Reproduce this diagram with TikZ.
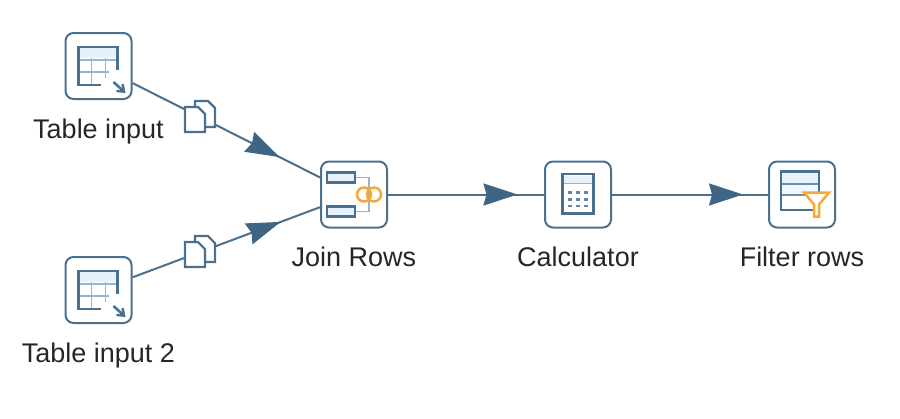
\documentclass[tikz,border=0pt]{standalone}
\usepackage{fontspec}
\setmainfont{Liberation Sans}
\usetikzlibrary{positioning, arrows.meta, decorations.markings}

\definecolor{hopblue}{HTML}{4A7090}
\definecolor{headblue}{HTML}{3F6584}
\definecolor{gridblue}{HTML}{9DB4C6}
\definecolor{paleblue}{HTML}{E6F2FB}
\definecolor{ringorange}{HTML}{F8A836}

\tikzset{
    stepbox/.style={draw=hopblue, line width=2pt, fill=white, rounded corners=8pt, minimum width=66pt, minimum height=66pt, inner sep=0pt},
    steplabel/.style={font=\fontsize{27}{32}\selectfont, text=black!85, inner sep=0pt, text height=19pt, text depth=6pt},
    hop/.style={draw=hopblue, line width=2pt},
    hophead/.style={postaction={decorate}, decoration={markings, mark=at position #1 with {\arrow[headblue]{Stealth[length=34pt, width=22pt, inset=3pt]}}}},
    tableicon/.pic={
        \fill[paleblue] (-19,-18) rectangle (18,-8);
        \draw[gridblue, line width=1.8pt] (-7,-8) -- (-7,18) (7,-8) -- (7,12) (-19,-6) -- (18,-6) (-19,6) -- (10,6);
        \draw[hopblue, line width=2.5pt] (2,19) -- (-20,19) -- (-20,-19) -- (19,-19) -- (19,4);
        \draw[hopblue, line width=2.5pt, -{Straight Barb[length=6pt, width=9pt]}] (15,16) -- (27,27);
    },
    joinicon/.pic={
        \draw[gridblue, line width=1.8pt] (1,-17) -- (15,-17) -- (15,17) -- (1,17);
        \draw[hopblue, line width=2.5pt, fill=paleblue] (-27,-22) rectangle (1,-12);
        \draw[hopblue, line width=2.5pt, fill=paleblue] (-27,12) rectangle (1,22);
        \draw[ringorange, line width=2.5pt] (10,0) circle (7) (20,0) circle (7);
    },
    calcicon/.pic={
        \fill[paleblue] (-15,-19) rectangle (15,-11);
        \draw[gridblue, line width=1.5pt] (-15,-11) -- (15,-11);
        \draw[hopblue, line width=2.5pt] (-15.5,-20.5) rectangle (15.5,19);
        \foreach \keyx in {-8,0,8}
            \foreach \keyy in {-2,5,11.5}
                \fill[hopblue!85] (\keyx-2,\keyy-1.2) rectangle (\keyx+2,\keyy+1.2);
    },
    filtericon/.pic={
        \fill[paleblue] (-21,-23) rectangle (17,-11);
        \fill[paleblue!60] (-21,-11) rectangle (17,0.5);
        \draw[hopblue!80, line width=2pt] (-21,-11) -- (17,-11) (-21,0.5) -- (17,0.5);
        \draw[hopblue, line width=2.5pt] (-21,-23) rectangle (17,15.5);
        \draw[ringorange, line width=2.5pt, fill=white] (2,-2) -- (27,-2) -- (17,10) -- (17,22) -- (12,22) -- (12,10) -- cycle;
    },
    copyicon/.pic={
        \draw[hop, line width=2.2pt, fill=white] (-5,-16) -- (8,-16) -- (15,-9) -- (15,10) -- (-5,10) -- cycle;
        \draw[hop, line width=2.2pt, fill=white] (-15,-10) -- (-2,-10) -- (5,-3) -- (5,15) -- (-15,15) -- cycle;
    }
}

\begin{document}
\begin{tikzpicture}[x=1pt, y=-1pt]
    \useasboundingbox (0,0) rectangle (900,418);

    % Steps
    \node[stepbox] (input) at (98.5,66) {};
    \node[stepbox, below=156pt of input] (inputtwo) {};
    \node[stepbox] (join) at (354,194.5) {};
    \node[stepbox, right=156pt of join] (calc) {};
    \node[stepbox, right=156pt of calc] (filter) {};

    % Labels
    \node[steplabel, below=19pt of input] (inputlabel) {Table input};
    \node[steplabel, below=19pt of inputtwo] (inputtwolabel) {Table input 2};
    \node[steplabel, below=19pt of join] (joinlabel) {Join Rows};
    \node[steplabel, below=19pt of calc] (calclabel) {Calculator};
    \node[steplabel, below=19pt of filter] (filterlabel) {Filter rows};

    % Icons
    \pic at (input) {tableicon};
    \pic at (inputtwo) {tableicon};
    \pic at (join) {joinicon};
    \pic at (calc) {calcicon};
    \pic at (filter) {filtericon};

    % Hops
    \draw[hop, hophead=.785] (input) -- (join);
    \draw[hop, hophead=.79] (inputtwo) -- (join);
    \draw[hop, hophead=.83] (join) -- (calc);
    \draw[hop, hophead=.84] (calc) -- (filter);

    % Copy marks
    \path (input) -- pic[pos=.36] {copyicon} (join);
    \path (inputtwo) -- pic[pos=.36] {copyicon} (join);
\end{tikzpicture}
\end{document}
